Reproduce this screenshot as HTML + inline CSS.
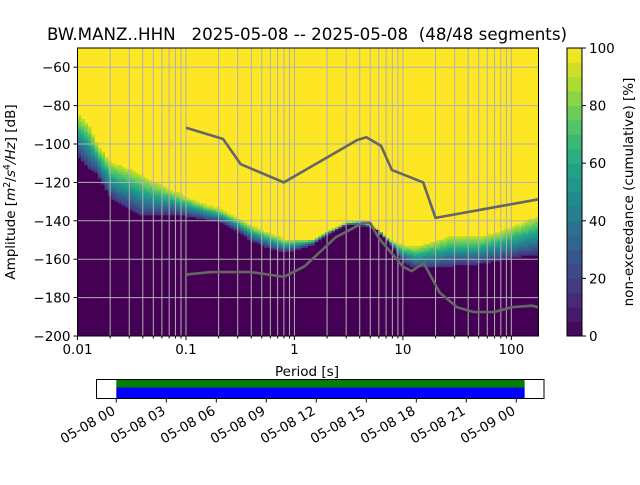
<!DOCTYPE html>
<html><head><meta charset="utf-8"><style>
body{margin:0;background:#fff;}
svg text{font-family:"DejaVu Sans","Liberation Sans",sans-serif;fill:#000;}
</style></head><body>
<svg id="fig" width="640" height="480" viewBox="0 0 640 480" xmlns="http://www.w3.org/2000/svg">
<rect width="640" height="480" fill="#fff"/>
<text x="307" y="40" font-size="16.7" text-anchor="middle" xml:space="preserve">BW.MANZ..HHN   2025-05-08 -- 2025-05-08  (48/48 segments)</text>
<g id="heat"></g>
<g id="grid"></g>
<g id="models"></g>
<rect x="77.5" y="48" width="461" height="288" fill="none" stroke="#000" stroke-width="1"/>
<g id="axes"></g>
<text x="307" y="376" font-size="13.5" text-anchor="middle">Period [s]</text>
<text transform="translate(15,192) rotate(-90)" font-size="13.5" text-anchor="middle">Amplitude [<tspan font-style="italic">m</tspan><tspan dy="-5" font-size="9.5">2</tspan><tspan dy="5">/</tspan><tspan font-style="italic">s</tspan><tspan dy="-5" font-size="9.5">4</tspan><tspan dy="5" font-style="italic">/Hz</tspan>] [dB]</text>
<g id="cbar"></g>
<text transform="translate(633,192) rotate(-90)" font-size="13.5" text-anchor="middle">non-exceedance (cumulative) [%]</text>
<g id="timeline"></g>
</svg>
<script>
// heatmap boundary data (period s, dB)
const bandPeriods = [0.01,0.0125,0.015,0.02,0.025,0.03,0.04,0.05,0.07,0.1,0.15,0.2,0.3,0.4,0.6,0.8,1,1.5,2,3,4,5,6,8,10,13,20,30,50,80,120,178];
const bandTop =     [-85,-90,-100,-110,-112,-113.5,-117,-120,-124,-128,-132,-134,-139,-143,-147,-150,-150,-150,-146,-141,-140,-142,-146,-151,-153,-154,-151,-148,-149,-146,-142,-138];
const bandBottom =  [-105,-112,-115,-127,-131,-133,-137,-137,-136,-137,-139,-140,-145,-150,-154,-156,-155,-152,-147,-142,-142,-143,-145,-153,-161,-164,-164,-163,-162,-160,-158,-157];
// noise models
const nhnmPeriods = [0.1,0.22,0.32,0.8,3.8,4.6,6.3,7.9,15.4,20,178];
const nhnmValues = [-91.5,-97.4,-110.5,-120,-97.9,-96.5,-101,-113.5,-120,-138.5,-128.8];
const nlnmPeriods = [0.1,0.17,0.4,0.8,1.24,2.4,4.3,5,6,10,12,15.6,21.9,31.6,45,70,101,154,178];
const nlnmValues = [-168,-166.7,-166.7,-169.2,-163.7,-148.6,-141.1,-141.1,-149,-163.8,-166.2,-162.1,-177.5,-185,-187.5,-187.5,-185,-184.2,-185];
const yTicks = [-60,-80,-100,-120,-140,-160,-180,-200];
const xTickLabels = ["0.01","0.1","1","10","100"];
const cbTicks = [0,20,40,60,80,100];
const timeLabels = ["05-08 00","05-08 03","05-08 06","05-08 09","05-08 12","05-08 15","05-08 18","05-08 21","05-09 00"];

const NS="http://www.w3.org/2000/svg";
const X0=77.5,X1=538.5,Y0=48,Y1=336;
const LMIN=-2,LMAX=Math.log10(178),DBMIN=-200,DBMAX=-50;
const xs=p=>X0+(Math.log10(p)-LMIN)/(LMAX-LMIN)*(X1-X0);
const ys=d=>Y1-(d-DBMIN)/(DBMAX-DBMIN)*(Y1-Y0);
function mk(tag,attrs,parent){const e=document.createElementNS(NS,tag);for(const k in attrs)e.setAttribute(k,attrs[k]);parent.appendChild(e);return e;}
const vir=[[68,1,84],[72,35,116],[64,67,135],[52,94,141],[41,120,142],[32,144,140],[34,167,132],[68,190,112],[121,209,81],[189,222,38],[253,231,37]];
function viridis(t){t=Math.max(0,Math.min(1,t));const f=t*10,i=Math.min(9,Math.floor(f)),r=f-i;const a=vir[i],b=vir[i+1];return `rgb(${Math.round(a[0]+(b[0]-a[0])*r)},${Math.round(a[1]+(b[1]-a[1])*r)},${Math.round(a[2]+(b[2]-a[2])*r)})`;}
function interp(P,V,p){const l=Math.log10(p);for(let i=0;i<P.length-1;i++){const a=Math.log10(P[i]),b=Math.log10(P[i+1]);if(l>=a&&l<=b)return V[i]+(V[i+1]-V[i])*(l-a)/(b-a);}return l<Math.log10(P[0])?V[0]:V[V.length-1];}

// heatmap
const heat=document.getElementById('heat');
mk('rect',{x:X0,y:Y0,width:X1-X0,height:Y1-Y0,fill:viridis(1)},heat);
const step=1/32;
for(let l=LMIN;l<LMAX;l+=step){
  const p=Math.pow(10,l+step/2);
  const top=interp(bandPeriods,bandTop,p),bot=interp(bandPeriods,bandBottom,p);
  const x=xs(Math.pow(10,l)),w=xs(Math.pow(10,Math.min(l+step,LMAX)))-x+0.4;
  const c=mk('rect',{x:x,y:ys(bot),width:w,height:Y1-ys(bot),fill:viridis(0)},heat);
  
  
  for(let d=Math.floor(bot);d<Math.ceil(top);d++){
    const s=Math.max(0,Math.min(1,((d+0.5)-bot)/(top-bot)));
    const v=Math.round((0.15+0.75*s)*20)/20;
    const r=mk('rect',{x:x,y:ys(d+1),width:w,height:ys(d)-ys(d+1)+0.3,fill:viridis(v)},heat);
    
    
  }
}
// grid
const grid=document.getElementById('grid');
for(let dec=-2;dec<=2;dec++){for(let m=1;m<=9;m++){const p=m*Math.pow(10,dec);if(p>178)continue;const x=xs(p);
  const g=mk('line',{x1:x,x2:x,y1:Y0,y2:Y1,stroke:'#b0b0b0','stroke-width':1},grid);
  
  }}
yTicks.forEach(d=>{const y=ys(d);const g=mk('line',{x1:X0,x2:X1,y1:y,y2:y,stroke:'#b0b0b0','stroke-width':1},grid);
  
  });
// models
const models=document.getElementById('models');
function line(P,V,name){const pts=P.map((p,i)=>xs(p).toFixed(1)+','+ys(V[i]).toFixed(1)).join(' ');
  const e=mk('polyline',{points:pts,fill:'none',stroke:'#666','stroke-width':2.6,'stroke-linejoin':'round'},models);
  
  }
line(nhnmPeriods,nhnmValues,'nhnm-line');
line(nlnmPeriods,nlnmValues,'nlnm-line');
// axes ticks
const axes=document.getElementById('axes');
yTicks.forEach(d=>{const y=ys(d);mk('line',{x1:X0-4,x2:X0,y1:y,y2:y,stroke:'#000'},axes);
  const t=mk('text',{x:X0-7,y:y+5,'font-size':13.5,'text-anchor':'end'},axes);t.textContent='\u2212'+Math.abs(d);
  
  });
for(let dec=-2;dec<=2;dec++){for(let m=1;m<=9;m++){const p=m*Math.pow(10,dec);if(p>178)continue;const x=xs(p);
  mk('line',{x1:x,x2:x,y1:Y1,y2:Y1+(m===1?4:2.5),stroke:'#000'},axes);}}
xTickLabels.forEach(s=>{const x=xs(parseFloat(s));const t=mk('text',{x:x,y:Y1+18,'font-size':13.5,'text-anchor':'middle'},axes);t.textContent=s;
  
  });
// colorbar
const cb=document.getElementById('cbar');const CX=567,CW=15;
for(let i=0;i<20;i++){const y0=Y1-(i+1)/20*(Y1-Y0);mk('rect',{x:CX,y:y0,width:CW,height:(Y1-Y0)/20+0.4,fill:viridis((i+0.5)/20)},cb);}
mk('rect',{x:CX,y:Y0,width:CW,height:Y1-Y0,fill:'none',stroke:'#000'},cb);
cbTicks.forEach(v=>{const y=Y1-v/100*(Y1-Y0);mk('line',{x1:CX+CW,x2:CX+CW+4,y1:y,y2:y,stroke:'#000'},cb);
  const t=mk('text',{x:CX+CW+7,y:y+5,'font-size':13.5},cb);t.textContent=v;
  
  });
// timeline
const tl=document.getElementById('timeline');
const TX0=96.5,TX1=544,TY0=379.5,TY1=398.5,T0=116.3,HPX=(166.3-116.3)/3;
mk('rect',{x:T0,y:TY0,width:24.5*HPX,height:8,fill:'#008000'},tl);
mk('rect',{x:T0,y:TY0+8,width:24.5*HPX,height:11,fill:'#0000ff'},tl);
mk('rect',{x:TX0,y:TY0,width:TX1-TX0,height:TY1-TY0,fill:'none',stroke:'#000'},tl);
timeLabels.forEach((s,i)=>{const x=T0+i*3*HPX;mk('line',{x1:x,x2:x,y1:TY1,y2:TY1+4,stroke:'#000'},tl);
  const t=mk('text',{transform:`translate(${x},${TY1+15}) rotate(-30)`,'font-size':13.5,'text-anchor':'end'},tl);t.textContent=s;
  
  });
</script>
</body></html>
